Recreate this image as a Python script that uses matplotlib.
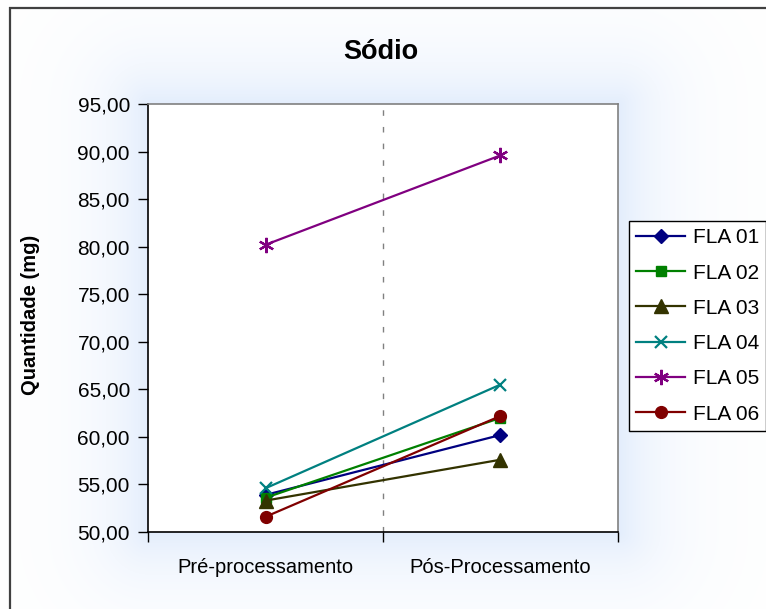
import numpy as np
import matplotlib
matplotlib.use("Agg")
import matplotlib.pyplot as plt
from matplotlib.ticker import FuncFormatter, FixedLocator

plt.rcParams["font.family"] = ["Liberation Sans", "DejaVu Sans"]

# Data
categories = ["Pré-processamento", "Pós-Processamento"]
series_names = ["FLA 01", "FLA 02", "FLA 03", "FLA 04", "FLA 05", "FLA 06"]
fla01 = [53.9, 60.2]
fla02 = [53.6, 62.0]
fla03 = [53.3, 57.6]
fla04 = [54.6, 65.5]
fla05 = [80.2, 89.6]
fla06 = [51.6, 62.2]

series_values = [fla01, fla02, fla03, fla04, fla05, fla06]
colors = ["#000080", "#008000", "#333300", "#008080", "#800080", "#800000"]
markers = ["D", "s", "^", "x", (6, 2, 0), "o"]
msizes = [7.5, 7.5, 9.5, 9, 11, 8.5]

W, H = 766, 609
fig = plt.figure(figsize=(W / 100, H / 100), dpi=100)

# soft blue glow behind the plot area
bg = fig.add_axes([0, 0, 1, 1], zorder=-10)
yy, xx = np.mgrid[0:H, 0:W]
dx = np.maximum(np.maximum(148 - xx, 0), xx - 618)
dy = np.maximum(np.maximum(104 - yy, 0), yy - 532)
d = np.sqrt(dx ** 2 + dy ** 2)
t = np.exp(-d / 45.0)
blue = np.array([0.89, 0.93, 0.99])
img = (1 - t[..., None]) * np.ones(3) + t[..., None] * blue
bg.imshow(img, extent=[0, W, H, 0], aspect="auto", interpolation="bilinear")
bg.set_xlim(0, W)
bg.set_ylim(H, 0)
bg.axis("off")

# chart frame (left and top edges visible)
bg.plot([9.5, 9.5], [7, H + 5], color="#404040", lw=1.6, solid_capstyle="butt")
bg.plot([9, W + 5], [7.5, 7.5], color="#404040", lw=1.6, solid_capstyle="butt")

ax = fig.add_axes([148 / W, 1 - 532 / H, 470 / W, 428 / H])
ax.set_facecolor("white")

x = np.arange(len(categories)) + 0.5
handles = []
for name, vals, c, m, ms in zip(series_names, series_values, colors, markers, msizes):
    (h,) = ax.plot(x, vals, color=c, lw=1.6, marker=m, markersize=ms,
                   markeredgecolor=c, markerfacecolor=c,
                   markeredgewidth=1.6 if m in ("x", (6, 2, 0)) else 1,
                   label=name, clip_on=False)
    handles.append(h)

ax.set_xlim(0, 2)
ax.set_ylim(50, 95)
ax.set_yticks(np.arange(50, 96, 5))
ax.yaxis.set_major_formatter(FuncFormatter(lambda v, p: f"{v:.2f}".replace(".", ",")))
ax.tick_params(axis="y", direction="out", length=7, width=1, labelsize=15, pad=6, color="black")

ax.xaxis.set_major_locator(FixedLocator([0, 1, 2]))
ax.xaxis.set_minor_locator(FixedLocator(x))
ax.set_xticklabels([])
ax.set_xticklabels(categories, minor=True)
ax.tick_params(axis="x", which="major", direction="out", length=7, width=1)
ax.tick_params(axis="x", which="minor", length=0, labelsize=14.5, pad=19)

ax.axvline(1, color="#808080", lw=1, linestyle=(0, (4, 8)), zorder=0)

for s in ["top", "right"]:
    ax.spines[s].set_color("#808080")
    ax.spines[s].set_linewidth(1.2)
for s in ["left", "bottom"]:
    ax.spines[s].set_color("black")
    ax.spines[s].set_linewidth(1.2)

fig.text(381 / W, 1 - 52 / H, "Sódio", ha="center", va="center",
         fontsize=19.5, fontweight="bold")
fig.text(31 / W, 1 - 315 / H, "Quantidade (mg)", ha="center", va="center",
         rotation=90, fontsize=14.5, fontweight="bold")

leg = fig.legend(handles=handles, loc="upper left",
                 bbox_to_anchor=(629 / W, 1 - 221 / H), borderaxespad=0,
                 fontsize=15, frameon=True, fancybox=False, framealpha=1,
                 edgecolor="black", facecolor="white", handlelength=2.35,
                 handletextpad=0.35, labelspacing=0.78, borderpad=0.35)
leg.get_frame().set_linewidth(1)

fig.savefig("out.png", dpi=100)
